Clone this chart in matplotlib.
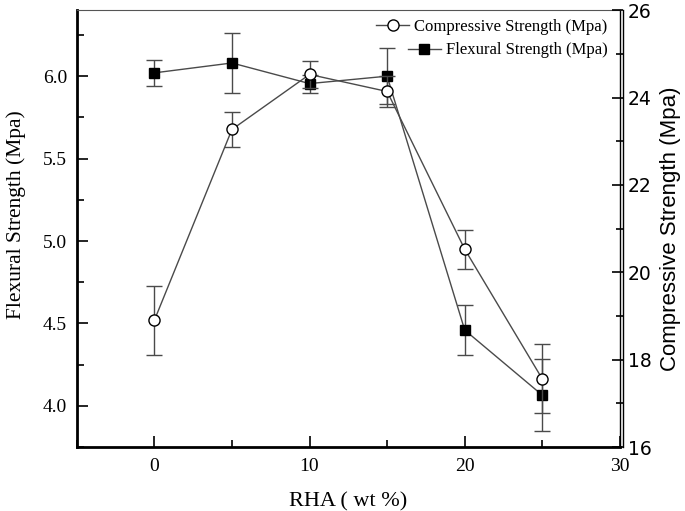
import matplotlib
matplotlib.use("Agg")
import matplotlib.pyplot as plt
from matplotlib.ticker import MultipleLocator
from matplotlib.lines import Line2D

# 数据
rha = [0, 5, 10, 15, 20, 25]
flexural = [6.02, 6.08, 5.955, 6.00, 4.46, 4.065]
flexural_err = [0.08, 0.18, 0.055, 0.17, 0.15, 0.22]
compressive = [18.90, 23.27, 24.53, 24.14, 20.53, 17.56]
compressive_err = [0.78, 0.39, 0.30, 0.35, 0.45, 0.79]

serif = "Liberation Serif"
sans = "Liberation Sans"
line_c = "#4a4a4a"

fig = plt.figure(figsize=(6.85, 5.11), dpi=100)
ax = fig.add_axes([0.112, 0.125, 0.793, 0.855])
ax2 = ax.twinx()

# 抗折强度（左轴）
ax.errorbar(rha, flexural, yerr=flexural_err, color=line_c, lw=1.0,
            elinewidth=1.0, capsize=6, capthick=1.0,
            marker="s", ms=7, mfc="black", mec="black", zorder=3)
# 抗压强度（右轴）
ax2.errorbar(rha, compressive, yerr=compressive_err, color=line_c, lw=1.0,
             elinewidth=1.0, capsize=6, capthick=1.0,
             marker="o", ms=8, mfc="white", mec="black", mew=1.0, zorder=3)

ax.set_xlim(-5, 30)
ax.set_ylim(3.75, 6.4)
ax2.set_ylim(16, 26)

ax.xaxis.set_major_locator(MultipleLocator(10))
ax.xaxis.set_minor_locator(MultipleLocator(5))
ax.yaxis.set_major_locator(MultipleLocator(0.5))
ax.yaxis.set_minor_locator(MultipleLocator(0.25))
ax2.yaxis.set_major_locator(MultipleLocator(2))
ax2.yaxis.set_minor_locator(MultipleLocator(1))

ax.tick_params(axis="both", which="major", direction="in", length=8, width=1.2,
               labelsize=14, top=False, right=False)
ax.tick_params(axis="y", which="major", pad=7)
ax.tick_params(axis="x", which="major", pad=8)
ax.tick_params(axis="both", which="minor", direction="in", length=5, width=1.2,
               top=False, right=False)
ax2.tick_params(axis="y", which="major", direction="in", length=8, width=1.2, labelsize=13.5)
ax2.tick_params(axis="y", which="minor", direction="in", length=5, width=1.2)

for lab in ax.get_xticklabels():
    lab.set_family(serif)
ax.set_yticklabels(["%.1f" % v for v in ax.get_yticks()], family=serif)
for lab in ax2.get_yticklabels():
    lab.set_family(sans)

ax.spines["left"].set_linewidth(2.0)
ax.spines["bottom"].set_linewidth(2.0)
ax.spines["top"].set_linewidth(0.8)
ax.spines["top"].set_color("#555555")
ax.spines["right"].set_linewidth(1.0)
ax2.spines["right"].set_linewidth(1.0)
ax2.spines["right"].set_position(("outward", 2))
for s in ["left", "bottom", "top"]:
    ax2.spines[s].set_visible(False)

ax.set_xlabel("RHA ( wt %)", family=serif, fontsize=16, labelpad=12)
ax.set_ylabel("Flexural Strength (Mpa)", family=serif, fontsize=15.5)
ax.yaxis.set_label_coords(-0.093, 0.533)
ax2.set_ylabel("Compressive Strength (Mpa)", family=sans, fontsize=16, labelpad=6)

# 图例：两行右对齐
h_comp = Line2D([], [], color=line_c, lw=1.0, marker="o", ms=8,
                mfc="white", mec="black")
h_flex = Line2D([], [], color=line_c, lw=1.0, marker="s", ms=7,
                mfc="black", mec="black")
leg1 = ax2.legend([h_comp], ["Compressive Strength (Mpa)"], loc="upper right",
                  bbox_to_anchor=(0.999, 1.007), frameon=False, handlelength=2.0,
                  handletextpad=0.3, borderaxespad=0.3,
                  prop={"family": serif, "size": 12})
ax2.add_artist(leg1)
ax2.legend([h_flex], ["Flexural Strength (Mpa)"], loc="upper right",
           bbox_to_anchor=(0.999, 0.953), frameon=False, handlelength=2.0,
           handletextpad=0.3, borderaxespad=0.3,
           prop={"family": serif, "size": 12})

fig.savefig("out.png", dpi=100)
